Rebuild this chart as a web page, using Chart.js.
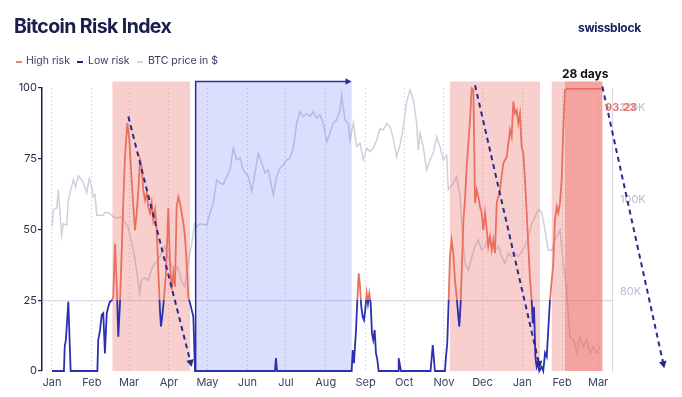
<!DOCTYPE html>
<html><head><meta charset="utf-8">
<script src="https://cdn.jsdelivr.net/npm/chart.js@4/dist/chart.umd.min.js"></script>
<style>
html,body{margin:0;padding:0;background:#fff;}
#wrap{position:relative;width:682px;height:397px;overflow:hidden;font-family:Inter,'Noto Sans',sans-serif;}
#wrap canvas{position:absolute;left:0;top:0;}
.t{position:absolute;white-space:nowrap;line-height:1;}
#title{left:14px;top:17px;font-size:19.5px;font-weight:700;color:#1a1e4a;letter-spacing:-0.6px;}
#logo{left:578px;top:22px;font-size:12px;font-weight:700;color:#1c2160;letter-spacing:-0.3px;}
.lg{top:56px;font-size:10.5px;color:#3a3d5c;}
.dash{position:absolute;top:61px;width:6px;height:1.5px;}
#days{left:562px;top:68px;font-size:12px;font-weight:700;color:#111;}
#last{left:605px;top:102px;font-size:11px;font-weight:700;color:#e8736a;}
</style></head>
<body>
<div id="wrap">
<canvas id="c" width="682" height="397" style="width:682px;height:397px"></canvas>
<div class="t" id="title">Bitcoin Risk Index</div>
<div class="t" id="logo">swissblock</div>
<span class="dash" style="left:16px;background:#e8836f"></span><span class="t lg" style="left:26px">High risk</span>
<span class="dash" style="left:77px;background:#1f2270"></span><span class="t lg" style="left:88px">Low risk</span>
<span class="dash" style="left:137px;background:#d5d6e0"></span><span class="t lg" style="left:148px">BTC price in $</span>
<div class="t" id="days">28 days</div>
<div class="t" id="last">93.23</div>
</div>
<script>
// ---- data ----
const monthTicks = [0,31,60,91,121,152,182,213,244,274,305,335,366,397,425];
const monthLabels = ['Jan','Feb','Mar','Apr','May','Jun','Jul','Aug','Sep','Oct','Nov','Dec','Jan','Feb','Mar'];
const riskTicks = [0,25,50,75,100];
const priceTicks = [80000,100000,120000];
const priceTickLabels = ['80K','100K','120K'];

const riskDays = [0,9.3,9.9,10.8,12.7,14.5,35.3,36,37.4,38.7,39.9,41.2,42.6,43.8,45.1,46.7,47.7,49,50.4,51.6,52.9,54.1,55.5,56.8,58.6,60.2,62,63.3,64.6,65.9,67.2,68.5,69.8,71,72.4,73.7,74.9,76.3,77.6,78.8,80.2,81.5,82.7,84,84.8,86.1,87.2,88.7,90.5,91.8,93.2,94.4,95.7,97,98.3,99.6,100.9,102.2,103.5,104.8,106.1,107.4,108.7,110,111.3,
 173.5,174.3,175.1,233.2,234,235,236.6,237.6,238.7,239.7,240.7,241.8,242.8,243.8,244.9,245.9,246.9,248,249,250,251.1,252.1,253.2,254.2,
 269.3,269.8,271.6,294.6,296.3,298,305.8,306.6,307.6,308.7,309.7,311,312.3,313.6,314.9,316.2,317,318,319.1,320.2,321.4,322.7,324,325.3,326.6,327.9,328.6,329.2,330.5,331.8,333.1,334.4,335.6,337,338.3,339.5,340.9,342.2,343.4,344.7,346.1,348.6,351.2,353.9,356.4,357.7,359,360.3,361.6,362.9,364.2,365.5,366.8,368.1,369.4,370.7,372,373.3,374.1,375.1,376.2,377.2,378.2,379.2,381.1,382.3,383.7,385,386.2,387.5,388.9,390.1,391.4,392.8,394,395.3,396.6,397.9,399.2,400.5,427.8];
const riskValues = [0,0,8.6,11,24.5,0,0,11,14.5,19.8,20.4,6.2,20.4,22.7,24.5,25,26.3,45,30,12.1,24,40,60,75.7,87.6,81.6,67.5,58,49.8,55.8,64,74.6,72.2,64,60.4,62.8,58,55.8,59.4,53.4,57,49.8,35.7,21.6,15.7,20.5,26,34.6,57.6,38,28.6,34.6,29.8,58,61.6,59.4,55.8,52.3,47.4,38.2,26,24,21.6,19.2,0,
 0,4.6,0,0,7.4,2.8,14.5,25,34.5,29.8,22.7,19.2,18,21.6,27.4,23.9,27.4,23.9,13.3,11,14.5,6.4,3.9,0,
 0,4.5,0,0,9.2,0,0,5,9.8,25,40.4,46.3,41.6,32.2,26.3,19.2,15.7,23.9,38.2,53.4,60.4,72.2,80.4,88.7,99.9,99.3,79.3,59.3,64,61.6,58,55.8,49.8,55.8,50,44,47.5,42.7,46.3,41.6,59.4,64,73.4,75.7,85.2,82.8,95.2,91,92.2,87.5,91,79.3,76.9,67.5,55.8,44,32.2,25,16.8,22.7,5,1.5,2.8,0,1.5,0,6.4,5,14.5,25,32,38,53.4,58,55.8,59.4,67.5,85.2,99.3,99.7,99.7];

const priceDays = [0,1,3.7,4.9,6.2,7.5,8.8,11.4,12.7,14.6,16.6,18.4,20.5,23.1,25.7,27,29,30.9,32.1,33.5,34.8,37.4,39.9,41.2,43.6,46.5,50,53.9,59.1,61.7,64.3,66.9,68.2,69.5,72.1,74.7,77.3,79.9,82.5,85.1,87.7,90.3,92.8,95.5,98,100.6,103.3,105.8,108.4,111,112.6,115.2,120.4,123,125.5,128.2,130.7,133.3,136,138.5,141.1,143.7,146.3,148.9,152.8,155.4,158,160.5,163.2,165.8,168.3,172.2,174.9,177.4,180,182.6,185.2,187.8,190.4,193,195.6,198.2,200.8,203.3,206,208.6,211.1,213.8,216.3,218.9,221.6,224.1,225.4,228,230.6,231.9,234.5,237.1,239.7,242.3,244.9,247.5,250,252.7,255.3,257.8,260.5,263,265.6,268.2,270.8,273.4,276,278.6,281.2,283.8,285,286.4,288.9,291.6,294.2,296.7,299.4,301.9,304.5,307.1,308.4,312.3,314.9,317.5,319.5,321.4,324,326.6,329.2,331.8,334.4,337,339.5,342.2,344.7,347.3,350,352.5,355.1,357.7,360.3,362.9,368.1,370.7,373.3,375.9,378.4,381.1,383.7,386.2,388.9,391.4,395.3,397.9,400.5,403.1,405.7,408.3,410.9,413.5,416.1,418.7,421.3,423.9,426.5];
const priceValues = [51,57,57.6,64,56,48,52,51.6,60.4,64,67.5,65,69,67.5,65,63,68,65,61.6,62.3,55,55,55,56,56,55,54,54.5,51,46,40.4,32,27.5,32,33,32,35.7,38,39,41.6,44,40,38,34.6,36.8,32,29.8,38,44,52,51,52,51.6,55.8,59.4,67.5,66.4,66,68.7,71,78.8,74.6,75.3,71,68.7,63.4,70,77,73.5,70,71,62.2,68.7,71.7,72.8,74.6,75.3,78.8,87.6,91.6,89.9,91,89.9,91.6,89.4,90.5,87.6,81,84,87.6,88.7,92.2,97.5,88.7,87.6,81.6,87.6,79.3,80.5,74.6,78.8,77.5,78.8,81.6,85.7,85.2,87.5,86.3,82.3,75.7,79.9,86.3,95.2,99.3,95.9,87.6,78,84,79.3,71,74.6,77,82.8,79.3,74.6,76.3,64,66.4,68.7,62,48,38,35.7,40,44,46.3,42.7,44,47.4,45,42.7,44,40.4,38,41.6,40.4,41.6,40.4,44,47.4,52,54.5,57,56,49.8,42.7,42.7,46.3,49.8,38,28.6,12.1,11,6.4,12.1,8.6,11,6.4,8.6,6.4,8.6];

const highRiskZones = [[47,107.4],[309.7,379.8],[388.9,428.3]];
const highRiskCoreZones = [[399.2,428.3]];
const lowRiskZones = [[111.8,233.2]];
const trendArrows = [[59.4,89.9,108.7,1.5],[329.2,101,379.8,1],[428.3,100.5,476.5,1]];

// ---- styling ----
const RED = '#e9705f', BLUE = '#2b2fb0', NAVY = '#272a8f';
const RISK_SPLIT = 25, ZONE_TOP = 102.3;

function riskStroke(ctx){
  const chart = ctx.chart, a = chart.chartArea;
  if(!a) return RED;
  const y = chart.scales.y.getPixelForValue(RISK_SPLIT);
  const g = chart.ctx.createLinearGradient(0, a.top, 0, a.bottom);
  const t = Math.min(1, Math.max(0, (y - a.top) / (a.bottom - a.top)));
  g.addColorStop(0, RED); g.addColorStop(t, RED); g.addColorStop(t, BLUE); g.addColorStop(1, BLUE);
  return g;
}

function head(c, x1, y1, x2, y2, size){
  const ang = Math.atan2(y2 - y1, x2 - x1);
  c.beginPath();
  c.moveTo(x2, y2);
  c.lineTo(x2 - size*Math.cos(ang-0.5), y2 - size*Math.sin(ang-0.5));
  c.lineTo(x2 - size*Math.cos(ang+0.5), y2 - size*Math.sin(ang+0.5));
  c.closePath(); c.fill();
}

const zonesPlugin = {
  id: 'zones',
  beforeDatasetDraw(chart, args){
    if (args.index !== 0) return;
    const c = chart.ctx, x = chart.scales.x, y = chart.scales.y;
    const top = y.getPixelForValue(ZONE_TOP), bot = y.getPixelForValue(0);
    const fill = (zones, color) => {
      c.fillStyle = color;
      zones.forEach(z => { const a = x.getPixelForValue(z[0]), b = x.getPixelForValue(z[1]); c.fillRect(a, top, b-a, bot-top); });
    };
    c.save();
    fill(highRiskZones, 'rgba(235,95,90,0.3)');
    fill(highRiskCoreZones, 'rgba(235,95,90,0.39)');
    fill(lowRiskZones, 'rgba(90,105,240,0.22)');
    c.restore();
  },
  afterDatasetsDraw(chart){
    const c = chart.ctx, x = chart.scales.x, y = chart.scales.y;
    const top = y.getPixelForValue(ZONE_TOP), bot = y.getPixelForValue(0);
    c.save();
    c.strokeStyle = '#2a2f9c'; c.fillStyle = '#2a2f9c'; c.lineWidth = 1.5;
    lowRiskZones.forEach(z => {
      const a = x.getPixelForValue(z[0]), b = x.getPixelForValue(z[1]);
      c.beginPath(); c.moveTo(a, bot); c.lineTo(a, top); c.lineTo(b - 4, top); c.stroke();
      head(c, a, top, b, top, 7);
    });
    c.strokeStyle = NAVY; c.fillStyle = NAVY; c.lineWidth = 2; c.setLineDash([5,4]);
    trendArrows.forEach(t => {
      const x1 = x.getPixelForValue(t[0]), y1 = y.getPixelForValue(t[1]);
      const x2 = x.getPixelForValue(t[2]), y2 = y.getPixelForValue(t[3]);
      const ang = Math.atan2(y2-y1, x2-x1);
      c.beginPath(); c.moveTo(x1, y1); c.lineTo(x2 - 5*Math.cos(ang), y2 - 5*Math.sin(ang)); c.stroke();
      c.setLineDash([]); head(c, x1, y1, x2, y2, 8); c.setLineDash([5,4]);
    });
    c.restore();
  }
};

new Chart(document.getElementById('c'), {
  type: 'line',
  data: {
    datasets: [
      { label: 'Risk', data: riskDays.map((d,i)=>({x:d, y:riskValues[i]})), borderColor: riskStroke, borderWidth: 1.8, pointRadius: 0, tension: 0, yAxisID: 'y', clip: 6 },
      { label: 'BTC price in $', data: priceDays.map((d,i)=>({x:d, y:priceValues[i]})), borderColor: '#cfd0de', borderWidth: 1.5, pointRadius: 0, tension: 0, yAxisID: 'y', clip: 6 }
    ]
  },
  options: {
    responsive: false, animation: false, devicePixelRatio: 1,
    layout: { padding: { top: 88, left: 0, right: 0, bottom: 0 } },
    plugins: { legend: { display: false }, tooltip: { enabled: false } },
    scales: {
      x: {
        type: 'linear', min: -7.78, max: 435.8,
        afterBuildTicks(s){ s.ticks = monthTicks.map(v => ({value: v})); },
        afterFit(s){ s.height = 26; },
        ticks: { callback: (v) => monthLabels[monthTicks.indexOf(v)], color: '#3d4160', font: { family: 'Inter', size: 11 }, padding: 5, maxRotation: 0, autoSkip: false },
        grid: { color: '#d2d3dc', drawTicks: false, lineWidth: 1 },
        border: { display: false, dash: [1.5, 2.5] }
      },
      y: {
        position: 'left', min: 0, max: 100,
        afterBuildTicks(s){ s.ticks = riskTicks.map(v => ({value: v})); },
        afterFit(s){ s.width = 42; },
        ticks: { color: '#2a2d4a', font: { family: 'Inter', size: 11 }, padding: 1 },
        grid: { color: (ctx) => ctx.tick && ctx.tick.value === RISK_SPLIT ? '#dcdce6' : 'rgba(0,0,0,0)', tickColor: '#1b1f4b', tickLength: 4, lineWidth: 1.2 },
        border: { display: true, color: '#1b1f4b', width: 1.5 }
      },
      y1: {
        position: 'right', min: 62600, max: 124300,
        afterBuildTicks(s){ s.ticks = priceTicks.map(v => ({value: v})); },
        afterFit(s){ s.width = 70; },
        ticks: { callback: (v) => priceTickLabels[priceTicks.indexOf(v)], color: '#b8bad0', font: { family: 'Inter', size: 11 }, padding: 8 },
        grid: { drawOnChartArea: false, drawTicks: false },
        border: { display: true, color: '#d5d6e0', width: 1 }
      }
    }
  },
  plugins: [zonesPlugin]
});
</script>
</body></html>
